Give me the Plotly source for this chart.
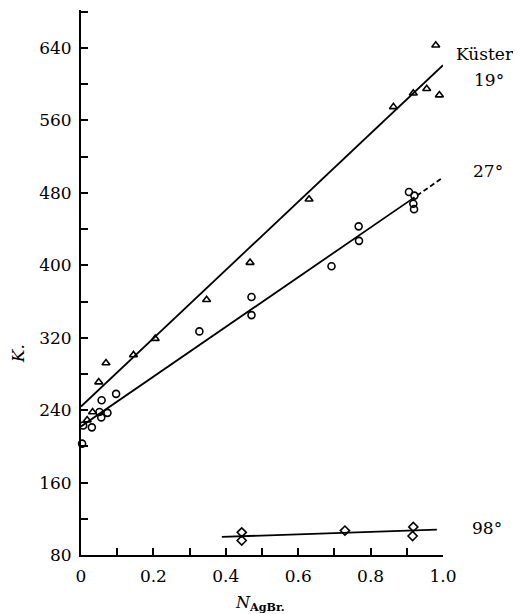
import plotly.graph_objects as go

# --- data ---
x19 = [0.017, 0.032, 0.049, 0.069, 0.145, 0.205, 0.347, 0.467, 0.630, 0.863, 0.918, 0.955, 0.980, 0.990]
k19 = [229, 238, 271, 292, 301, 319, 362, 403, 473, 575, 590, 595, 643, 588]

x27 = [0.003, 0.006, 0.030, 0.051, 0.056, 0.057, 0.073, 0.097, 0.327, 0.471, 0.471,
       0.692, 0.767, 0.768, 0.906, 0.918, 0.920, 0.921]
k27 = [203, 223, 221, 238, 232, 251, 237, 258, 327, 365, 345,
       399, 443, 427, 481, 468, 462, 477]

x98 = [0.444, 0.444, 0.729, 0.918, 0.916]
k98 = [105, 96, 107, 111, 101]

# fitted lines (end points)
line19_x = [0.0, 1.0]
line19_k = [244, 621]
line27_x = [0.0, 0.91]
line27_k = [222, 472]
line27d_x = [0.91, 1.0]
line27d_k = [472, 497]
line98_x = [0.389, 0.983]
line98_k = [100, 108]

labels = ["Küster", "19°", "27°", "98°"]
xticks = [0, 0.2, 0.4, 0.6, 0.8, 1.0]
xticktext = ["0", "0.2", "0.4", "0.6", "0.8", "1.0"]
yticks = [80, 160, 240, 320, 400, 480, 560, 640]

FONT = "DejaVu Serif"
fig = go.Figure()

lw = 1.8
fig.add_trace(go.Scatter(x=line19_x, y=line19_k, mode="lines", line=dict(color="black", width=lw)))
fig.add_trace(go.Scatter(x=line27_x, y=line27_k, mode="lines", line=dict(color="black", width=lw)))
fig.add_trace(go.Scatter(x=line27d_x, y=line27d_k, mode="lines", line=dict(color="black", width=lw, dash="5px,3px")))
fig.add_trace(go.Scatter(x=line98_x, y=line98_k, mode="lines", line=dict(color="black", width=lw)))

mk = dict(color="black", size=7, line=dict(color="black", width=1.6))
fig.add_trace(go.Scatter(x=x19, y=k19, mode="markers", cliponaxis=False,
                         marker=dict(symbol="triangle-up-open", **mk)))
fig.add_trace(go.Scatter(x=x27, y=k27, mode="markers", cliponaxis=False,
                         marker=dict(symbol="circle-open", **mk)))
fig.add_trace(go.Scatter(x=x98, y=k98, mode="markers", cliponaxis=False,
                         marker=dict(symbol="diamond-open", **mk)))

tickfont = dict(family=FONT, size=17, color="black")
fig.update_xaxes(range=[0, 1.0], showgrid=False, zeroline=False, showline=True, automargin=False,
                 linecolor="black", linewidth=2, ticks="inside", ticklen=7, tickwidth=1.5,
                 tickcolor="black", tickvals=xticks, ticktext=xticktext, tickfont=tickfont,
                 ticklabelstandoff=5,
                 minor=dict(dtick=0.1, tick0=0, ticks="inside", ticklen=7, tickwidth=1.5, tickcolor="black"))
fig.update_yaxes(range=[80, 682], showgrid=False, zeroline=False, showline=True, automargin=False,
                 linecolor="black", linewidth=2, ticks="inside", ticklen=7, tickwidth=1.5,
                 tickcolor="black", tickvals=yticks, tickfont=tickfont, ticklabelstandoff=4,
                 minor=dict(dtick=40, tick0=80, ticks="inside", ticklen=7, tickwidth=1.5, tickcolor="black"))

ann_font = dict(family=FONT, size=17, color="black")
fig.add_annotation(x=1.030, y=0.919, xref="paper", yref="paper", text=labels[0], showarrow=False,
                   xanchor="left", yanchor="middle", font=ann_font)
fig.add_annotation(x=1.127, y=0.872, xref="paper", yref="paper", text=labels[1], showarrow=False,
                   xanchor="center", yanchor="middle", font=ann_font)
fig.add_annotation(x=1.124, y=0.705, xref="paper", yref="paper", text=labels[2], showarrow=False,
                   xanchor="center", yanchor="middle", font=ann_font)
fig.add_annotation(x=1.122, y=0.0495, xref="paper", yref="paper", text=labels[3], showarrow=False,
                   xanchor="center", yanchor="middle", font=ann_font)

# axis titles
fig.add_annotation(x=-0.205, y=0.37, xref="paper", yref="paper", text="<i>K.</i>",
                   textangle=-90, showarrow=False, font=dict(family=FONT, size=17, color="black"))
fig.add_annotation(x=0.494, y=-0.112, xref="paper", yref="paper",
                   text="<i>N</i><sub><b>AgBr.</b></sub>", showarrow=False,
                   font=dict(family=FONT, size=16, color="black"))

# page body has an 8px margin, so offset the plot area accordingly
fig.update_layout(width=521, height=614, margin=dict(l=73, r=86, t=2, b=67),
                  paper_bgcolor="white", plot_bgcolor="white", showlegend=False)

fig.write_html("out.html")
